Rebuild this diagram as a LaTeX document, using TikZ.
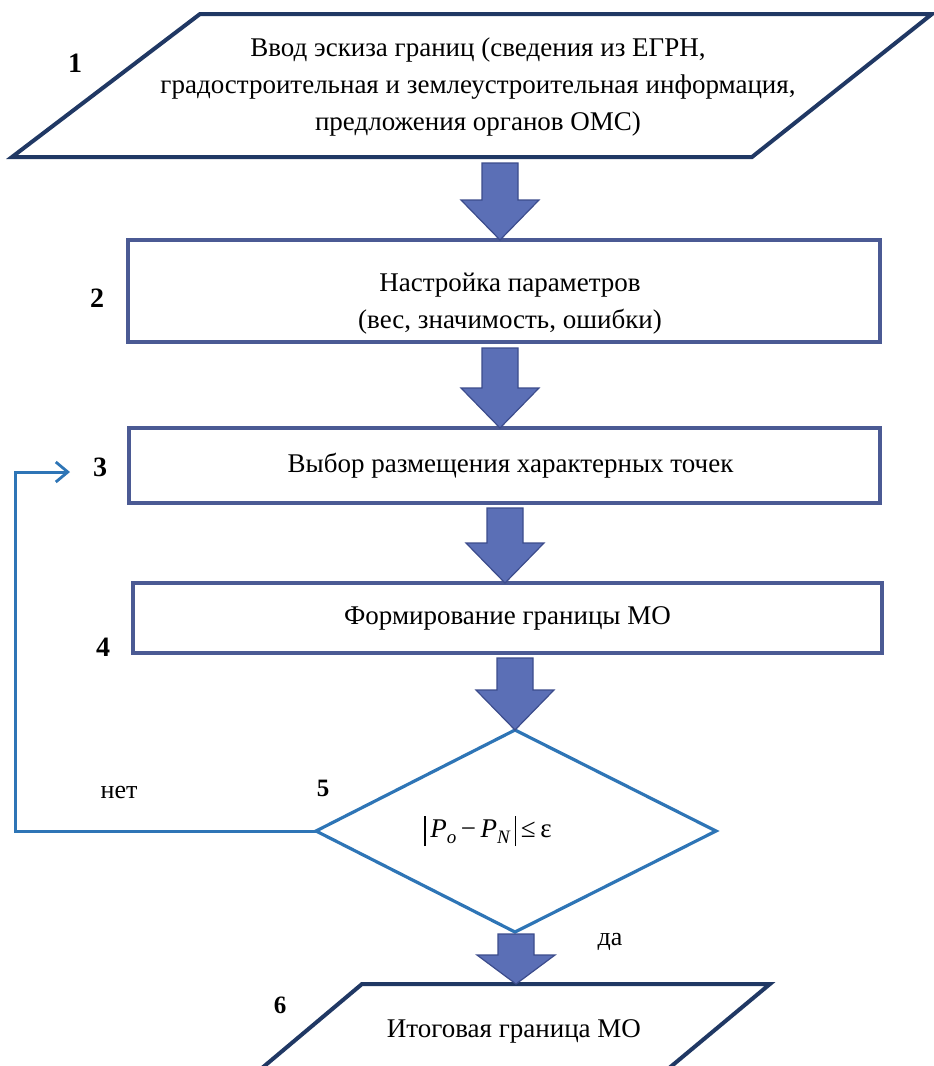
\documentclass[tikz,border=0pt]{standalone}
\usepackage{fontspec}
\setmainfont{Liberation Serif}
\usetikzlibrary{calc,arrows.meta}

\definecolor{navy}{HTML}{203864}
\definecolor{boxedge}{HTML}{4B5A94}
\definecolor{arrowfill}{HTML}{5B6FB6}
\definecolor{arrowedge}{HTML}{3C4C8C}
\definecolor{decision}{HTML}{2E75B6}

\tikzset{
  iobox/.style={draw=navy, line width=4pt, line join=miter, fill=white},
  stepbox/.style={draw=boxedge, line width=3.5pt, fill=white, rectangle,
    outer sep=0pt, inner sep=0pt, align=center,
    font=\fontsize{27}{37}\selectfont},
  decisionbox/.style={draw=decision, line width=3.2pt, line join=miter, fill=white},
  blockarrow/.style={fill=arrowfill, draw=arrowedge, line width=1.2pt, line join=miter},
  loopline/.style={draw=decision, line width=3pt,
    -{Straight Barb[length=12pt,width=20pt,line width=2.8pt]}},
  bodytext/.style={align=center, font=\fontsize{27}{37}\selectfont},
  stepnum/.style={font=\fontsize{28}{30}\selectfont\bfseries},
  smallnum/.style={font=\fontsize{25}{27}\selectfont\bfseries},
  answer/.style={font=\fontsize{26}{28}\selectfont},
}

% wide down arrow from #2 (top of shaft) to #3 (tip); #1 = head length
\newcommand\flowarrow[3][40pt]{%
  \filldraw[blockarrow] let \p1=(#2), \p2=(#3) in
    (\x2-18pt,\y1) -- (\x2+18pt,\y1) -- (\x2+18pt,\y2+#1) -- (\x2+39pt,\y2+#1)
    -- (\x2,\y2) -- (\x2-39pt,\y2+#1) -- (\x2-18pt,\y2+#1) -- cycle;}

\begin{document}
\begin{tikzpicture}[x=1pt,y=-1pt]
\useasboundingbox (0,0) rectangle (934,1066);
\clip (0,0) rectangle (934,1066);

% block 1: input parallelogram
\coordinate (p1-tl) at (200,14);
\coordinate (p1-tr) at (932,14);
\coordinate (p1-br) at (752,157);
\coordinate (p1-bl) at (12,157);
\draw[iobox] (p1-tl) -- (p1-tr) -- (p1-br) -- (p1-bl) -- cycle;
\node[bodytext] (in1) at (478,87) {Ввод эскиза границ (сведения из ЕГРН,\\
  градостроительная и землеустроительная информация,\\
  предложения органов ОМС)};

% blocks 2--4
\node[stepbox, minimum width=752pt, minimum height=102pt] (s2) at (504,291) {};
\node[bodytext] (t2) at (510,304) {Настройка параметров\\(вес, значимость, ошибки)};
\node[stepbox, minimum width=751pt, minimum height=75pt] (s3) at (504.5,465.5)
  {\hspace*{12pt}Выбор размещения характерных точек};
\node[stepbox, minimum width=749pt, minimum height=70pt] (s4) at (507.5,618)
  {Формирование границы МО};

% block 5: decision
\coordinate (d-top) at (515,730);
\coordinate (d-left) at (316,831);
\coordinate (d-right) at (716,831);
\coordinate (d-bottom) at (515,932);
\draw[decisionbox] (d-top) -- (d-right) -- (d-bottom) -- (d-left) -- cycle;
\node[font=\fontsize{27}{29}\selectfont, inner sep=0pt] (cond) at (488,831)
  {\raisebox{-9pt}{\rule{1.4pt}{30pt}}\,\textit{P}\raisebox{-6pt}{\fontsize{19}{20}\selectfont\textit{o}}\,−\,\textit{P}\raisebox{-6pt}{\fontsize{19}{20}\selectfont\textit{N}}\,\raisebox{-9pt}{\rule{1.4pt}{30pt}}\,≤\,ε};

% block 6: output parallelogram
\coordinate (p6-tl) at (362,984);
\coordinate (p6-tr) at (770,984);
\coordinate (p6-br) at (650,1084);
\coordinate (p6-bl) at (243,1084);
\draw[iobox] (p6-tl) -- (p6-tr) -- (p6-br) -- (p6-bl) -- cycle;
\node[bodytext] (out6) at (514,1031) {Итоговая граница МО};

% arrow axes
\coordinate (x1) at (500,0);
\coordinate (x2) at (500,0);
\coordinate (x3) at (505,0);
\coordinate (x4) at (515,0);
\coordinate (x5) at (516,0);

\flowarrow{$(x1 |- p1-bl)+(0,6)$}{x1 |- s2.north}
\flowarrow{$(x2 |- s2.south)+(0,6)$}{x2 |- s3.north}
\flowarrow{$(x3 |- s3.south)+(0,5)$}{x3 |- s4.north}
\flowarrow{$(x4 |- s4.south)+(0,5)$}{d-top}
\flowarrow[29pt]{$(x5 |- d-bottom)+(0,2)$}{x5 |- p6-tl}

% feedback loop "no"
\coordinate (fbx) at (15,0);
\coordinate (fbtip) at (70,472);
\draw[loopline] (d-left) -- (d-left -| fbx) |- (fbtip);

% step numbers
\node[stepnum] (n1) at (75,63) {1};
\node[stepnum] (n2) at (97,298) {2};
\node[stepnum] (n3) at (100,467) {3};
\node[stepnum] (n4) at (103,647) {4};
\node[smallnum] (n5) at (323,788) {5};
\node[smallnum] (n6) at (280,1005) {6};

% branch labels
\node[answer] (no) at (119,792) {нет};
\node[answer] (yes) at (610,942) {да};
\end{tikzpicture}
\end{document}
